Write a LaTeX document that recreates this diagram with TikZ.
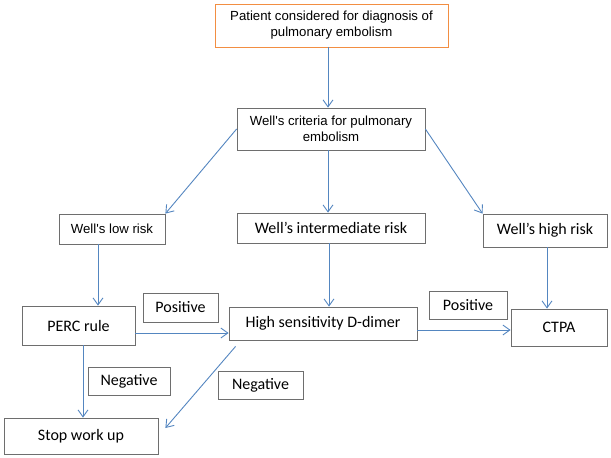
\documentclass[tikz,border=0pt]{standalone}
\usepackage{fontspec}
\usepackage{tikz}
\usetikzlibrary{arrows.meta}
\newfontfamily\arialf{Liberation Sans}
\newfontfamily\calf{Carlito}
\definecolor{flow}{RGB}{84,134,192}
\definecolor{frame}{RGB}{110,110,110}
\definecolor{start}{RGB}{242,142,66}

\begin{document}
\begin{tikzpicture}[
  x=1pt,y=-1pt,
  box/.style={draw=frame,line width=0.8pt,fill=white,inner sep=0pt,align=center},
  abox/.style={box,font=\arialf\fontsize{13.2}{16}\selectfont},
  cbox/.style={box,font=\calf\fontsize{16}{19}\selectfont},
  arr/.style={->,draw=flow,line width=0.9pt},
  >={Straight Barb[length=7pt,width=10pt]}
]
\useasboundingbox (0,0) rectangle (611,458);
\node[abox,draw=start,minimum width=233,minimum height=43] (top) at (331.5,25.5)
  {Patient considered for diagnosis of\\pulmonary embolism};
\node[abox,minimum width=188,minimum height=42] (crit) at (331,129)
  {Well\textquotesingle s criteria for pulmonary\\embolism};
\node[abox,minimum width=106,minimum height=30] (low)  at (112,229)   {Well\textquotesingle s low risk};
\node[cbox,minimum width=188,minimum height=30] (mid)  at (331,228)   {Well’s intermediate risk};
\node[cbox,minimum width=124,minimum height=33] (high) at (545,230.5) {Well’s high risk};
\node[cbox,minimum width=113,minimum height=39] (perc) at (78.5,325.5) {PERC rule};
\node[cbox,minimum width=75,minimum height=29]  (pos1) at (180.5,307.5) {Positive};
\node[cbox,minimum width=188,minimum height=33] (ddim) at (323,323.5) {High sensitivity D-dimer};
\node[cbox,minimum width=78,minimum height=28]  (pos2) at (468,305)   {Positive};
\node[cbox,minimum width=96,minimum height=37]  (ctpa) at (559,327.5) {CTPA};
\node[cbox,minimum width=82,minimum height=28]  (neg1) at (129,381)   {Negative};
\node[cbox,minimum width=85,minimum height=28]  (neg2) at (260.5,385) {Negative};
\node[cbox,minimum width=154,minimum height=36] (stop) at (81,436)    {Stop work up};

\draw[arr] ([xshift=-3.5pt]top.south) -- ([xshift=-3.5pt]top.south |- crit.north);
\draw[arr] (crit.west) -- (low.north east);
\draw[arr] ([xshift=-3pt]crit.south) -- ([xshift=-3pt]crit.south |- mid.north);
\draw[arr] (crit.east) -- (high.north west);
\draw[arr] ([xshift=-14pt]low.south) -- ([xshift=-14pt]low.south |- perc.north);
\draw[arr] ([xshift=-2pt]mid.south) -- ([xshift=-2pt]mid.south |- ddim.north);
\draw[arr] ([xshift=2pt]high.south) -- ([xshift=2pt]high.south |- ctpa.north);
\draw[arr] ([yshift=-7.5pt]perc.east) -- ([yshift=-7.5pt]perc.east -| ddim.west);
\draw[arr] ([yshift=-6.5pt]ddim.east) -- ([yshift=-6.5pt]ddim.east -| ctpa.west);
\draw[arr] ([xshift=4.5pt]perc.south) -- ([xshift=4.5pt]perc.south |- stop.north);
\coordinate (sx) at ([xshift=7pt,yshift=8pt]stop.east);
\draw[arr] ([xshift=7pt,yshift=-6pt]ddim.south west) -- (sx);
\end{tikzpicture}
\end{document}
